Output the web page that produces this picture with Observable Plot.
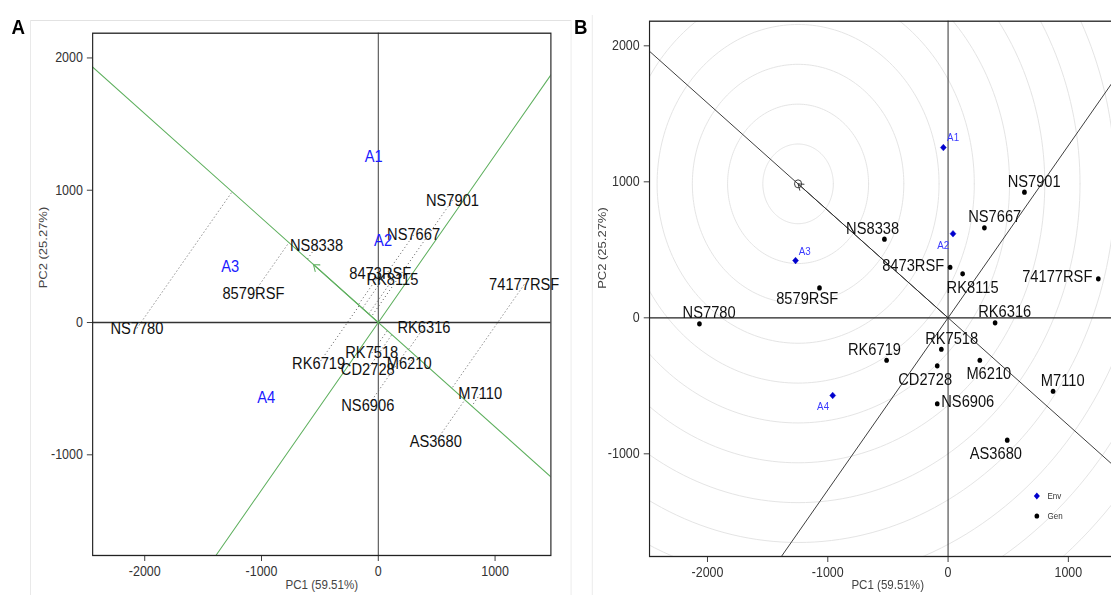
<!DOCTYPE html>
<html><head><meta charset="utf-8">
<script src="https://cdn.jsdelivr.net/npm/d3@7"></script>
<script src="https://cdn.jsdelivr.net/npm/@observablehq/plot@0.6"></script>
<style>
html,body{margin:0;padding:0;background:#fff;overflow:hidden;width:1111px;height:595px;}
#fig{position:relative;width:1248px;height:595px;transform:scaleX(0.89);transform-origin:0 0;font-family:"Liberation Sans",Arial,sans-serif;overflow:hidden;}
.panel{position:absolute;background:#fff;}
.panel svg{display:block;max-width:none !important;}
.tag{position:absolute;font-weight:bold;font-size:21px;line-height:21px;color:#000;}
.legend{position:absolute;font-size:9px;color:#333;line-height:20px;}
.legend div{display:flex;align-items:center;height:20px;}
.legend svg{margin-right:6px;}
</style></head>
<body>
<div id="fig">
  <div id="panelA" class="panel" style="left:33.8px;top:20px;width:606.7px;height:590px;border:1px solid #e2e2e2;"></div>
  <div id="panelB" class="panel" style="left:665.3px;top:15px;width:618.5px;height:595px;border-left:1px solid #e2e2e2;"></div>
  <div class="tag" style="left:13px;top:15.5px;">A</div>
  <div class="tag" style="left:645px;top:15.5px;">B</div>
  <div class="legend" style="left:1159px;top:486px;">
    <div><svg width="12" height="12"><path d="M6,2.6L9.4,6L6,9.4L2.6,6Z" fill="#0000cd"/></svg>Env</div>
    <div><svg width="12" height="12"><circle cx="6" cy="6" r="2.6" fill="#000"/></svg>Gen</div>
  </div>
</div>
<script>
// ---- data ----
const genotypes = ["NS7901","NS7667","NS8338","8473RSF","RK8115","74177RSF","8579RSF","NS7780","RK6316","RK7518","RK6719","CD2728","M6210","M7110","NS6906","AS3680"];
const genPC1 = [635, 302, -529, 17, 121, 1249, -1069, -2067, 391, -56, -511, -90, 264, 873, -90, 492];
const genPC2 = [924, 662, 578, 372, 323, 287, 220, -44, -37, -231, -312, -353, -312, -540, -632, -900];
const environments = ["A1","A2","A3","A4"];
const envPC1 = [-39, 41, -1268, -959];
const envPC2 = [1252, 618, 421, -571];
const averageEnv = [-556, 439];
const idealGen = [-1247, 985];
const ringRadii = [293, 586, 879, 1172, 1465, 1758, 2051, 2344, 2637, 2930, 3223, 3516, 3809, 4102];
const xTicks = [-2000, -1000, 0, 1000];
const yTicks = [-1000, 0, 1000, 2000];
const xTitle = "PC1 (59.51%)";
const yTitle = "PC2 (25.27%)";

// ---- label placement for panel B (layout only) ----
const nudgeB = {
  "NS7901":[10.9,-10,"middle"], "NS7667":[11.6,-10.6,"middle"], "NS8338":[-13.3,-10,"middle"],
  "8473RSF":[-6.7,-1.7,"end"], "RK8115":[11.2,13.4,"middle"], "74177RSF":[-6.7,-2,"end"],
  "8579RSF":[-13.8,10.7,"middle"], "NS7780":[10.9,-10.6,"middle"], "RK6316":[10.8,-11.3,"middle"],
  "RK7518":[11.6,-10.4,"middle"], "RK6719":[-13.6,-10.4,"middle"], "CD2728":[-13.6,14,"middle"],
  "M6210":[10.1,13,"middle"], "M7110":[10.8,-10.7,"middle"], "NS6906":[4.5,-2,"start"],
  "AS3680":[-12.8,13,"middle"],
  "A1":[10.9,-9.7,"middle"], "A2":[-10.9,11.7,"middle"], "A3":[10.3,-9.3,"middle"], "A4":[-10.8,11,"middle"]
};

const gen = genotypes.map((name, i) => ({name, x: genPC1[i], y: genPC2[i]}));
const env = environments.map((name, i) => ({name, x: envPC1[i], y: envPC2[i]}));

const len = Math.hypot(averageEnv[0], averageEnv[1]);
const u = [averageEnv[0] / len, averageEnv[1] / len];
const big = 10000;
const aeaLine = [{x: -big * u[0], y: -big * u[1]}, {x: big * u[0], y: big * u[1]}];
const perpLine = [{x: big * u[1], y: -big * u[0]}, {x: -big * u[1], y: big * u[0]}];
const projLinks = gen.map(d => {
  const t = d.x * u[0] + d.y * u[1];
  return {x1: d.x, y1: d.y, x2: t * u[0], y2: t * u[1]};
});
const ringPts = ringRadii.flatMap((r, k) => d3.range(0, 241).map(j => {
  const a = j / 240 * 2 * Math.PI;
  return {ring: k, x: idealGen[0] + r * Math.cos(a), y: idealGen[1] + r * Math.sin(a)};
}));

const font = '"Liberation Sans", Arial, sans-serif';
const green = "#5fb05f";

// ---- Panel A ----
const plotA = Plot.plot({
  width: 606.7, height: 590,
  marginLeft: 68.6, marginRight: 23.2, marginTop: 11.7, marginBottom: 56,
  style: {fontFamily: font, fontSize: "14px", color: "#333", background: "#fff", overflow: "visible"},
  x: {domain: [-2446, 1478], ticks: xTicks, tickSize: 6, tickPadding: 5, label: null, tickFormat: d => String(d)},
  y: {domain: [-1761, 2187], ticks: yTicks, tickSize: 6, tickPadding: 5, label: null, tickFormat: d => String(d)},
  marks: [
    Plot.ruleX([0], {stroke: "#333", strokeWidth: 1}),
    Plot.ruleY([0], {stroke: "#333", strokeWidth: 1.3}),
    Plot.link(projLinks, {x1: "x1", y1: "y1", x2: "x2", y2: "y2", stroke: "#666", strokeWidth: 1, strokeDasharray: "1.2,2.6", clip: true}),
    Plot.line(aeaLine, {x: "x", y: "y", stroke: green, strokeWidth: 1.1, clip: true}),
    Plot.line(perpLine, {x: "x", y: "y", stroke: green, strokeWidth: 1.1, clip: true}),
    Plot.arrow([{x1: 0, y1: 0, x2: averageEnv[0], y2: averageEnv[1]}], {x1: "x1", y1: "y1", x2: "x2", y2: "y2", stroke: green, strokeWidth: 1.1, headLength: 10, headAngle: 70}),
    Plot.text(gen, {x: "x", y: "y", text: "name", fill: "#111", fontSize: 16.5}),
    Plot.text(env, {x: "x", y: "y", text: "name", fill: "#1a1aff", fontSize: 16.5}),
    Plot.text([xTitle], {text: d => d, frameAnchor: "bottom", dy: 34, fontSize: 13, fill: "#444"}),
    Plot.text([yTitle], {text: d => d, frameAnchor: "left", dx: -55, dy: -6, rotate: -90, fontSize: 13, fill: "#444"}),
    Plot.frame({stroke: "#222", strokeWidth: 1.3})
  ]
});
document.getElementById("panelA").appendChild(plotA);

// ---- Panel B ----
const genLabelMarks = gen.map(d => {
  const [dx, dy, anchor] = nudgeB[d.name];
  return Plot.text([d], {x: "x", y: "y", text: "name", dx, dy, textAnchor: anchor, fill: "#111", fontSize: 16.5});
});
const envLabelMarks = env.map(d => {
  const [dx, dy, anchor] = nudgeB[d.name];
  return Plot.text([d], {x: "x", y: "y", text: "name", dx, dy, textAnchor: anchor, fill: "#3a3aff", fontSize: 11});
});
const plotB = Plot.plot({
  width: 618.5, height: 595,
  marginLeft: 63.3, marginRight: 20, marginTop: 5.7, marginBottom: 54,
  style: {fontFamily: font, fontSize: "14px", color: "#333", background: "#fff", overflow: "visible"},
  x: {domain: [-2482, 1478], ticks: xTicks, tickSize: 6, tickPadding: 5, label: null, tickFormat: d => String(d)},
  y: {domain: [-1755, 2181], ticks: yTicks, tickSize: 6, tickPadding: 5, label: null, tickFormat: d => String(d)},
  marks: [
    Plot.line(ringPts, {x: "x", y: "y", z: "ring", stroke: "#e2e2e2", strokeWidth: 1, clip: true}),
    Plot.ruleX([0], {stroke: "#222", strokeWidth: 1}),
    Plot.ruleY([0], {stroke: "#222", strokeWidth: 1.2}),
    Plot.line(aeaLine, {x: "x", y: "y", stroke: "#333", strokeWidth: 1, clip: true}),
    Plot.line(perpLine, {x: "x", y: "y", stroke: "#333", strokeWidth: 1, clip: true}),
    Plot.arrow([{x1: 0, y1: 0, x2: idealGen[0], y2: idealGen[1]}], {x1: "x1", y1: "y1", x2: "x2", y2: "y2", stroke: "#333", strokeWidth: 1, headLength: 10, headAngle: 70}),
    Plot.dot([{x: idealGen[0], y: idealGen[1]}], {x: "x", y: "y", r: 4, stroke: "#333", fill: "none", strokeWidth: 1}),
    Plot.dot(gen, {x: "x", y: "y", r: 2.6, fill: "#000"}),
    Plot.dot(env, {x: "x", y: "y", r: 3, symbol: "diamond2", fill: "#0000cd", stroke: "#0000cd", strokeWidth: 0.5}),
    ...genLabelMarks,
    ...envLabelMarks,
    Plot.text([xTitle], {text: d => d, frameAnchor: "bottom", dy: 32, fontSize: 13, fill: "#444"}),
    Plot.text([yTitle], {text: d => d, frameAnchor: "left", dx: -53, rotate: -90, fontSize: 13, fill: "#444"}),
    Plot.frame({stroke: "#222", strokeWidth: 1.3})
  ]
});
document.getElementById("panelB").appendChild(plotB);
</script>
</body></html>
